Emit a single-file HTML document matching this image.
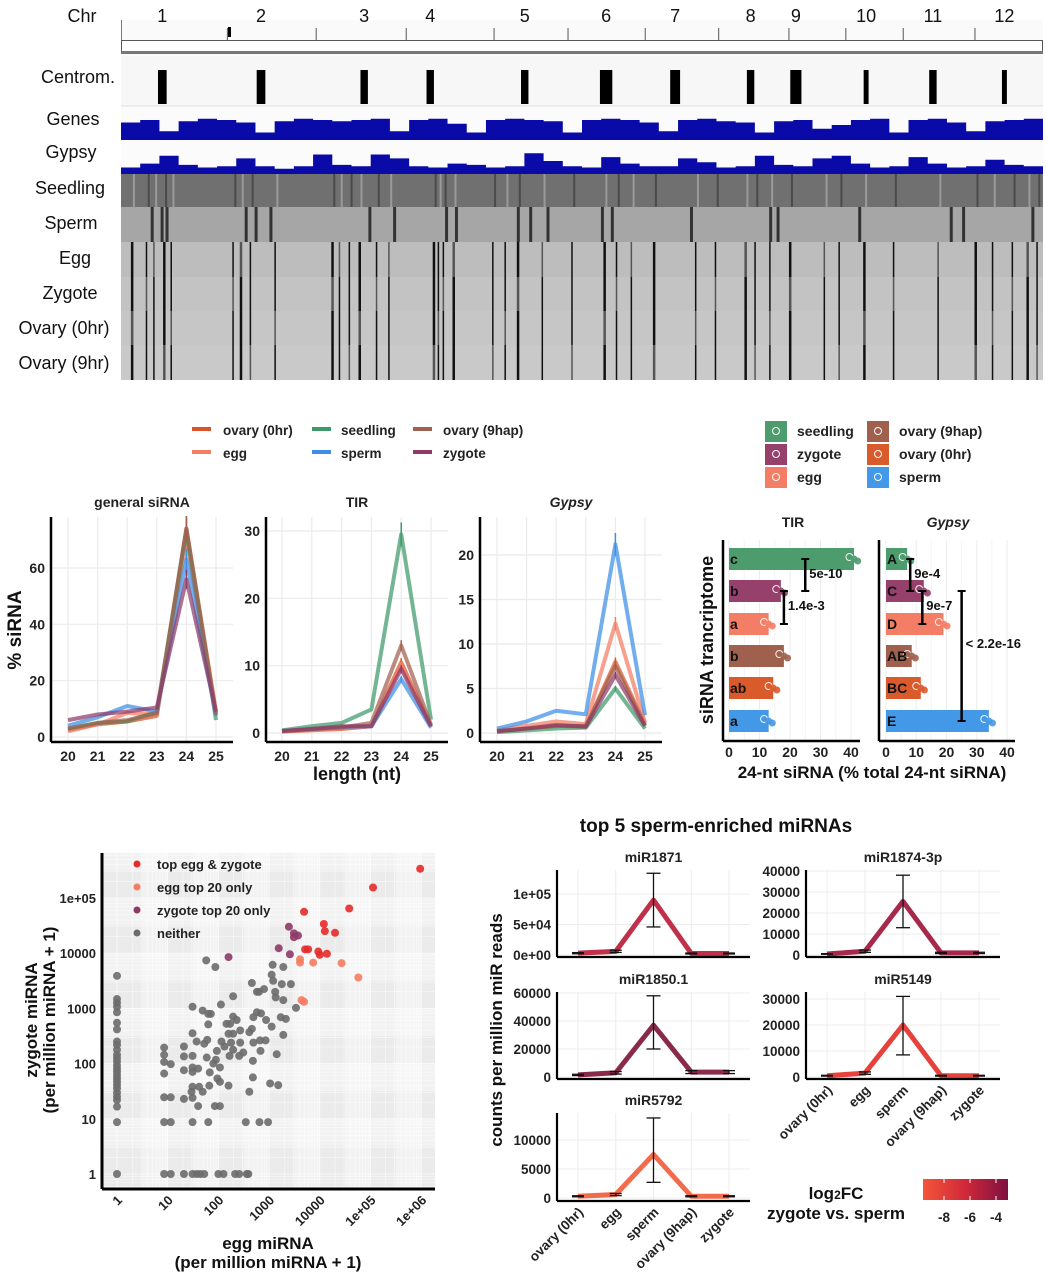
<!DOCTYPE html>
<html><head><meta charset="utf-8">
<style>
html,body{margin:0;padding:0;background:#fff;}
svg{display:block;font-family:"Liberation Sans",Arial,sans-serif;}
</style></head>
<body>
<svg id="fig" width="1046" height="1280" viewBox="0 0 1046 1280" xmlns="http://www.w3.org/2000/svg">
<rect x="0" y="0" width="1046" height="1280" fill="#fff"/>
</svg>
<script>
// ================= DATA =================
const chrNames=["1","2","3","4","5","6","7","8","9","10","11","12"];
const chrLenMb=[43,35.9,36.4,35.5,29.9,31.2,29.7,28.4,23,23.2,29,27.5];
const centroMb=[16.7,13.6,19.4,9.7,12.4,15.4,12.1,12.9,2.8,8.2,12.0,11.9];
const centroWidthMb=[3.5,3.5,3,3,3,5,4,3,4.5,2,3,2];
const genesProfile=[0.7,0.8,0.35,0.75,0.85,0.8,0.7,0.3,0.75,0.85,0.8,0.75,0.8,0.85,0.35,0.8,0.85,0.65,0.3,0.8,0.85,0.8,0.75,0.3,0.8,0.85,0.8,0.7,0.35,0.8,0.85,0.75,0.7,0.3,0.75,0.8,0.45,0.6,0.8,0.85,0.3,0.8,0.85,0.7,0.35,0.75,0.8,0.85];
const gypsyProfile=[0.25,0.4,0.7,0.35,0.25,0.3,0.6,0.3,0.2,0.3,0.75,0.35,0.3,0.75,0.6,0.3,0.25,0.4,0.35,0.25,0.3,0.8,0.5,0.3,0.25,0.65,0.4,0.3,0.3,0.6,0.45,0.25,0.3,0.7,0.35,0.3,0.6,0.7,0.4,0.25,0.3,0.65,0.4,0.25,0.3,0.55,0.35,0.3];
const heatTracks=["Seedling","Sperm","Egg","Zygote","Ovary (0hr)","Ovary (9hr)"];
const heatBase=["#707070","#a6a6a6","#bdbdbd","#c3c3c3","#c6c6c6","#c9c9c9"];
const darkStripesMb=[4,10,13,17,20,45,48,52,62,85,88,92,96,103,108,126,128,130,134,150,155,160,170,182,195,200,206,215,232,240,252,256,262,270,284,290,300,312,330,345,352,360,366,370];
const spermDarkMb=[12,16,18,50,54,60,100,110,131,135,160,165,172,194,198,230,262,265,298,335,340,368];
const lengths=[20,21,22,23,24,25];
const sampleNames=["ovary (0hr)","egg","seedling","sperm","ovary (9hap)","zygote"];
const sampleColors=["#d9542a","#f47c62","#3e9a69","#3b8fe6","#a15f4e","#8e3a67"];
const generalVals=[[2.5,4.5,5.5,7.5,74,9],[2,4.5,8.5,8,70,8],[3,5,5.5,9,73,6],[4,7,11,9,63,7.5],[3,5,6,8.5,74,8],[6,8,9,10.5,56,9]];
const tirVals=[[0.2,0.4,0.6,1,10.5,1],[0.2,0.5,0.7,1,10,1],[0.4,1,1.5,3.5,29.5,2],[0.3,0.6,0.9,1,8,0.8],[0.3,0.6,0.8,1.5,13,1.2],[0.3,0.6,1,1,9.5,1]];
const gypsyVals=[[0.2,0.5,0.8,0.7,8,1],[0.3,0.8,1.3,1,12.3,1.2],[0.1,0.3,0.5,0.6,5,0.5],[0.5,1.3,2.5,2.1,21.2,2],[0.2,0.5,0.8,0.8,7.5,0.8],[0.2,0.5,0.9,0.7,6.5,0.8]];
const generalTicks=[0,20,40,60];
const tirTicks=[0,10,20,30];
const gypsyTicks=[0,5,10,15,20];
const barSamples=["seedling","zygote","egg","ovary (9hap)","ovary (0hr)","sperm"];
const barColors=["#4c9c6e","#96406c","#f47d66","#a0604e","#d95a2b","#4398e8"];
const tirBar=[41,17,13,18,14.5,13];
const gypsyBar=[7,12.5,19,8.5,11.5,34];
const tirLetters=["c","b","a","b","ab","a"];
const gypsyLetters=["A","C","D","AB","BC","E"];
const barTicks=[0,10,20,30,40];
const eggTop=[5.98,5.05,4.58,3.69,4.08,4.10,4.30,3.71,3.77,3.97,4.0,4.14];
const zygTop=[5.53,5.19,4.81,4.75,4.53,4.40,4.37,4.07,4.07,4.03,3.97,3.99];
const eggOnlyEgg=[3.61,3.61,3.87,4.43,4.76,3.64,3.69];
const eggOnlyZyg=[3.89,3.83,3.83,3.82,3.56,3.15,3.12];
const zygOnlyEgg=[2.20,3.19,3.39,3.49,3.57,3.49,3.41];
const zygOnlyZyg=[3.93,4.09,4.48,4.36,4.32,4.29,3.98];
const neitherEgg=[1.76,1.94,3.07,3.28,2.66,3.05,3.08,3.25,3.43,2.76,2.80,2.90,3.12,3.13,3.28,2.29,2.05,1.49,1.69,1.80,1.85,3.53,2.76,2.84,2.69,2.94,3.23,3.33,2.29,2.36,2.23,2.16,1.80,3.05,1.49,2.43,2.61,2.66,2.20,2.29,2.82,2.93,3.28,1.57,1.78,2.06,2.12,2.25,2.43,2.69,1.32,1.72,1.97,2.29,2.83,2.49,0.93,0.93,1.32,1.49,1.77,1.95,2.22,2.41,3.15,2.68,0.93,1.06,1.49,1.60,1.90,2.03,1.32,1.49,1.83,1.98,2.68,0.93,1.49,1.62,1.82,2.03,2.20,3.02,3.18,1.47,1.69,2.61,0.93,1.06,1.32,1.49,1.60,1.93,2.03,0.93,1.06,1.49,1.80,2.54,2.81,2.98,0.93,1.06,1.32,1.49,1.57,1.64,1.72,2.00,2.10,2.33,2.41,2.56,2.59,
 0,0,0,0,0,0,0,0,0,0,0,0,0,0,0,0,0,0,0,0,0,0,0,0,0,0,0];
const neitherZyg=[3.87,3.75,3.79,3.75,3.46,3.61,3.50,3.44,3.44,3.30,3.30,3.35,3.30,3.20,3.15,3.22,3.07,3.03,2.96,2.90,2.90,3.01,2.93,2.91,2.84,2.79,2.84,2.81,2.85,2.79,2.72,2.72,2.71,2.67,2.55,2.60,2.57,2.63,2.54,2.54,2.42,2.42,2.52,2.40,2.43,2.40,2.31,2.38,2.38,2.38,2.31,2.36,2.23,2.25,2.23,2.20,2.29,2.16,2.13,2.14,2.11,2.07,2.14,2.14,2.17,2.05,2.03,1.99,1.93,1.91,2.00,1.93,1.88,1.85,1.84,1.73,1.75,1.82,1.58,1.58,1.60,1.67,1.60,1.64,1.61,1.49,1.49,1.49,1.39,1.39,1.36,1.38,1.23,1.23,1.23,0.94,0.94,0.94,0.94,0.94,0.94,0.94,0,0,0,0,0,0,0,0,0,0,0,0,0,
 3.59,3.17,3.10,3.03,2.93,2.74,2.62,2.40,2.34,2.25,2.16,2.10,2.04,1.97,1.91,1.85,1.79,1.73,1.67,1.61,1.55,1.47,1.40,1.34,1.22,0.94,0];
const logTickLabels=["1","10","100","1000","10000","1e+05","1e+06"];
const logTickYLabels=["1","10","100","1000","10000","1e+05"];
const mirStages=["ovary (0hr)","egg","sperm","ovary (9hap)","zygote"];
const mirNames=["miR1871","miR1874-3p","miR1850.1","miR5149","miR5792"];
const mirColors=["#c0304b","#a6284b","#8a2a49","#e6413a","#f26b4b"];
const mir1871=[3000,6000,90000,2500,2500];
const mir1874=[500,1800,25500,1000,1000];
const mir1850=[1500,3000,37000,3500,3500];
const mir5149=[500,1500,20000,500,500];
const mir5792=[300,600,7500,300,300];
const mirErrLow=[46000,13000,20000,8500,2700];
const mirErrHigh=[134000,38000,58000,31000,13800];
const mirTicks1871=["0e+00","5e+04","1e+05"];
const mirTickVals1871=[0,50000,100000];
const mirTicks1874=[0,10000,20000,30000,40000];
const mirTicks1850=[0,20000,40000,60000];
const mirTicks5149=[0,10000,20000,30000];
const mirTicks5792=[0,5000,10000];
const cbTicks=[-8,-6,-4];

// ================= HELPERS =================
const NS="http://www.w3.org/2000/svg";
const svg=document.getElementById('fig');
function mk(tag,attrs,parent,text){const e=document.createElementNS(NS,tag);for(const k in attrs)e.setAttribute(k,attrs[k]);if(text!==undefined)e.textContent=text;(parent||svg).appendChild(e);return e;}
function grp(name,parent){const g=mk('g',{},parent);return g;}

// ================= GENOME BROWSER =================
const gb=grp('genome-browser');
const X0=121,X1=1043;
const totalMb=chrLenMb.reduce((a,b)=>a+b,0);
const gx=mb=>X0+mb/totalMb*(X1-X0);
const chrStart=[];{let s=0;for(const l of chrLenMb){chrStart.push(s);s+=l;}}
const trackLabels=[["Chr",82,22],["Centrom.",78,83],["Genes",73,125],["Gypsy",71,158],["Seedling",70,194],["Sperm",71,229],["Egg",75,264],["Zygote",70,299],["Ovary (0hr)",64,334],["Ovary (9hr)",64,369]];
trackLabels.forEach(t=>{const e=mk('text',{x:t[1],y:t[2],'text-anchor':'middle','font-size':18,fill:'#111'},gb,t[0]);

});
mk('rect',{x:X0,y:20,width:X1-X0,height:36,fill:'#fafafa'},gb);
mk('line',{x1:X0+0.5,y1:20,x2:X0+0.5,y2:40,stroke:'#777'},gb);
chrStart.forEach((s,i)=>{if(i>0){const t=mk('line',{x1:gx(s),y1:28,x2:gx(s),y2:40,stroke:'#555','stroke-width':1},gb);}
 const cl=mk('text',{x:gx(s+centroMb[i]),y:22,'text-anchor':'middle','font-size':18,fill:'#111'},gb,chrNames[i]);
 
 });
mk('rect',{x:228,y:27,width:3,height:10,fill:'#000'},gb);
mk('rect',{x:X0+0.5,y:40.5,width:X1-X0-1,height:12,fill:'#fff',stroke:'#555','stroke-width':1},gb);
mk('rect',{x:X0,y:51,width:X1-X0,height:3,fill:'#777'},gb);
mk('rect',{x:X0,y:56,width:X1-X0,height:50,fill:'#f7f7f7'},gb);
mk('line',{x1:X0,y1:106,x2:X1,y2:106,stroke:'#ddd'},gb);
centroMb.forEach((c,i)=>{const r=mk('rect',{x:gx(chrStart[i]+c)-gx(centroWidthMb[i])/2+X0/2,y:70,width:gx(centroWidthMb[i])-X0,height:34,fill:'#000'},gb);
 
 });
function densityTrack(profile,top,bottom,name){
 const n=profile.length;const w=(X1-X0)/n;let d=`M${X0},${bottom}`;
 profile.forEach((v,i)=>{const y=bottom-v*(bottom-top);d+=` L${X0+i*w},${y} L${X0+(i+1)*w},${y}`;});
 d+=` L${X1},${bottom} Z`;
 const p=mk('path',{d:d,fill:'#0a0aa8'},gb);
 
 }
mk('rect',{x:X0,y:107,width:X1-X0,height:67,fill:'#fbfbfb'},gb);
densityTrack(genesProfile,115,140,'genes-density-track');
densityTrack(gypsyProfile,148,174,'gypsy-density-track');
const hTop=[174,207,242,277,311,345],hBot=[207,242,277,311,345,380];
heatTracks.forEach((t,i)=>{const r=mk('rect',{x:X0,y:hTop[i],width:X1-X0,height:hBot[i]-hTop[i],fill:heatBase[i]},gb);
 
 
 if(i>=2){darkStripesMb.forEach((m,j)=>{mk('rect',{x:gx(m),y:hTop[i],width:(j%3==0)?2.5:1.5,height:hBot[i]-hTop[i],fill:(j+i)%4==0?'#555':'#111'},gb);});}
 if(i==1){spermDarkMb.forEach(m=>{mk('rect',{x:gx(m),y:hTop[i],width:3,height:hBot[i]-hTop[i],fill:'#333'},gb);});}
 if(i==0){darkStripesMb.forEach((m,j)=>{mk('rect',{x:gx(m)+2,y:hTop[i],width:2,height:hBot[i]-hTop[i],fill:j%2?'#4a4a4a':'#9a9a9a'},gb);});}
});

// ================= LINE CHARTS =================
const lc=grp('sirna-length-charts');
const legSw=[[192,434],[192,457],[312,434],[312,457],[413,434],[413,457]];
const legTx=[223,223,341,341,443,443];
sampleNames.forEach((s,i)=>{const g=grp('legend-entry',lc);
 mk('line',{x1:legSw[i][0],y1:legSw[i][1]-5,x2:legSw[i][0]+19,y2:legSw[i][1]-5,stroke:sampleColors[i],'stroke-width':4},g);
 mk('text',{x:legTx[i],y:legSw[i][1]+1,'font-size':13.5,'font-weight':'bold',fill:'#222'},g,s);});
function lineChart(opts){
 const g=grp(opts.name,lc);
 const {x0,x1,yTop,yBot,y0px,yMaxVal,yMaxPx,cx0,cx1}=opts;
 const ys=v=>y0px-(v)/(yMaxVal)*(y0px-yMaxPx);
 const xs=l=>cx0+(l-20)/5*(cx1-cx0);
 opts.ticks.forEach(t=>{mk('line',{x1:x0,x2:x1,y1:ys(t),y2:ys(t),stroke:'#ebebeb','stroke-width':1.2},g);
  const tl=mk('text',{x:x0-6,y:ys(t)+5,'text-anchor':'end','font-size':14,'font-weight':'bold',fill:'#222'},g,String(t));
  
  });
 lengths.forEach(l=>{mk('line',{x1:xs(l),x2:xs(l),y1:yTop,y2:yBot,stroke:'#ebebeb','stroke-width':1.2},g);
  const tl=mk('text',{x:xs(l),y:yBot+19,'text-anchor':'middle','font-size':14,'font-weight':'bold',fill:'#222'},g,String(l));
  
  });
 opts.vals.forEach((arr,si)=>{const pts=arr.map((v,k)=>xs(lengths[k])+','+ys(v)).join(' ');
  const pl=mk('polyline',{points:pts,fill:'none',stroke:sampleColors[si],'stroke-width':4,'stroke-opacity':0.72,'stroke-linejoin':'round'},g);
  
  
  const v=arr[4];mk('line',{x1:xs(24),x2:xs(24),y1:ys(v*1.06),y2:ys(v*0.94),stroke:sampleColors[si],'stroke-width':1.5},g);});
 mk('line',{x1:x0,y1:yTop,x2:x0,y2:yBot,stroke:'#000','stroke-width':2.5},g);
 mk('line',{x1:x0,y1:yBot,x2:x1,y2:yBot,stroke:'#000','stroke-width':2.5},g);
 const tt=mk('text',{x:(x0+x1)/2,y:yTop-10,'text-anchor':'middle','font-size':14,'font-weight':'bold','font-style':opts.italic?'italic':'normal',fill:'#222'},g,opts.title);
 
 
}
lineChart({name:'general-sirna-chart',title:'general siRNA',x0:51,x1:233,yTop:517,yBot:742,y0px:737,yMaxVal:60,yMaxPx:568,cx0:68,cx1:216,ticks:generalTicks,vals:generalVals});
lineChart({name:'tir-chart',title:'TIR',x0:266,x1:448,yTop:517,yBot:742,y0px:733,yMaxVal:30,yMaxPx:531,cx0:282,cx1:431,ticks:tirTicks,vals:tirVals});
lineChart({name:'gypsy-chart',title:'Gypsy',italic:true,x0:480,x1:662,yTop:517,yBot:742,y0px:733,yMaxVal:20,yMaxPx:555,cx0:497,cx1:645,ticks:gypsyTicks,vals:gypsyVals});
{const t=mk('text',{x:0,y:0,transform:'translate(21,630) rotate(-90)','text-anchor':'middle','font-size':19,'font-weight':'bold',fill:'#111'},lc,'% siRNA');
const t2=mk('text',{x:357,y:780,'text-anchor':'middle','font-size':18,'font-weight':'bold',fill:'#111'},lc,'length (nt)');}

// ================= BAR CHARTS =================
const bc=grp('bar-charts');
const bLeg=[[765,431],[765,454],[765,477],[867,431],[867,454],[867,477]];
barSamples.forEach((s,i)=>{const g=grp('legend-entry',bc);
 mk('rect',{x:bLeg[i][0],y:bLeg[i][1]-10,width:22,height:21,fill:barColors[i]},g);
 mk('circle',{cx:bLeg[i][0]+11,cy:bLeg[i][1],r:3.5,fill:'none',stroke:'#fff','stroke-width':1},g);
 mk('text',{x:bLeg[i][0]+32,y:bLeg[i][1]+5,'font-size':14,'font-weight':'bold',fill:'#222'},g,s);});
const rowY=[559,591,624,656,688,721];
function barChart(o){
 const g=grp(o.name,bc);
 const xs=v=>o.x0+v*(o.x40-o.x0)/40;
 barTicks.forEach(t=>{mk('line',{x1:xs(t),x2:xs(t),y1:540,y2:740,stroke:'#ededed','stroke-width':1},g);
  if(t<40)mk('line',{x1:xs(t+5),x2:xs(t+5),y1:540,y2:740,stroke:'#f4f4f4','stroke-width':1},g);
  const tl=mk('text',{x:xs(t),y:757,'text-anchor':'middle','font-size':14,'font-weight':'bold',fill:'#222'},g,String(t));
  
  });
 o.vals.forEach((v,i)=>{const r=mk('rect',{x:o.x0,y:rowY[i]-11,width:xs(v)-o.x0,height:22,fill:barColors[i]},g);
  
  
  [-1.5,0,1.2].forEach((d,k)=>mk('circle',{cx:xs(v+d),cy:rowY[i]+(k-1)*2,r:3.5,fill:barColors[i],stroke:k==0?'#fff':'none','stroke-width':1,opacity:0.9},g));
  mk('text',{x:o.x0+1,y:rowY[i]+5,'font-size':14,'font-weight':'bold',fill:'#111'},g,o.letters[i]);});
 o.sig.forEach(s=>{const x=xs(s[0]),y1=rowY[s[1]],y2=rowY[s[2]];
  mk('line',{x1:x,x2:x,y1:y1,y2:y2,stroke:'#000','stroke-width':2.5},g);
  mk('line',{x1:x-4,x2:x+4,y1:y1,y2:y1,stroke:'#000','stroke-width':2},g);
  mk('line',{x1:x-4,x2:x+4,y1:y2,y2:y2,stroke:'#000','stroke-width':2},g);
  const tl=mk('text',{x:x+4,y:s[4],'font-size':13,'font-weight':'bold',fill:'#111'},g,s[3]);
  
  });
 mk('line',{x1:o.axisX,y1:540,x2:o.axisX,y2:741,stroke:'#000','stroke-width':2.5},g);
 mk('line',{x1:o.axisX,y1:741,x2:o.axisX+(o.x40-o.x0)+15,y2:741,stroke:'#000','stroke-width':2.5},g);
 const tt=mk('text',{x:o.tx,y:527,'text-anchor':'middle','font-size':14,'font-weight':'bold','font-style':o.italic?'italic':'normal',fill:'#222'},g,o.title);
 
 
}
barChart({name:'tir-bar-chart',title:'TIR',tx:793,x0:729,x40:851,axisX:723,vals:tirBar,letters:tirLetters,sig:[[25,0,1,'5e-10',578],[18,1,2,'1.4e-3',610]]});
barChart({name:'gypsy-bar-chart',title:'Gypsy',italic:true,tx:948,x0:886,x40:1007,axisX:879,vals:gypsyBar,letters:gypsyLetters,sig:[[8,0,1,'9e-4',578],[12,1,2,'9e-7',610],[25,1,5,'< 2.2e-16',648]]});
{const t=mk('text',{x:0,y:0,transform:'translate(713,640) rotate(-90)','text-anchor':'middle','font-size':18,'font-weight':'bold',fill:'#111'},bc,'siRNA trancriptome');
const t2=mk('text',{x:872,y:778,'text-anchor':'middle','font-size':17,'font-weight':'bold',fill:'#111'},bc,'24-nt siRNA (% total 24-nt siRNA)');}

// ================= SCATTER =================
const sc=grp('mirna-scatter');
const SX0=102,SX1=435,SY0=853,SY1=1189;
const sxl=l=>117+l*50.7, syl=l=>1174-l*55.2;
mk('rect',{x:SX0,y:SY0,width:SX1-SX0,height:SY1-SY0,fill:'#ebebeb'},sc);
for(let d=0;d<=6;d++){for(let k=1;k<=9;k++){const x=sxl(d+Math.log10(k));if(x>SX0&&x<SX1)mk('line',{x1:x,x2:x,y1:SY0,y2:SY1,stroke:'#fff','stroke-width':k==1?0.6:0.4},sc);}}
for(let d=-1;d<=5;d++){for(let k=1;k<=9;k++){const y=syl(d+Math.log10(k));if(y>SY0&&y<SY1)mk('line',{x1:SX0,x2:SX1,y1:y,y2:y,stroke:'#fff','stroke-width':k==1?0.6:0.4},sc);}}
for(let d=0;d<=5;d++){mk('rect',{x:sxl(d+0.5),y:SY0,width:50.7*0.5,height:SY1-SY0,fill:'#fff',opacity:0.35},sc);}
for(let d=0;d<=5;d++){mk('rect',{x:SX0,y:syl(d+1),width:SX1-SX0,height:55.2*0.5,fill:'#fff',opacity:0.35},sc);}
function pts(xa,ya,col,name){xa.forEach((x,i)=>{const c=mk('circle',{cx:sxl(x),cy:syl(ya[i]),r:4,fill:col,opacity:0.9},sc);
 
 });}
pts(neitherEgg,neitherZyg,'#6b6b6b','neither-point');
pts(zygOnlyEgg,zygOnlyZyg,'#8e3a67','zygote-only-point');
pts(eggOnlyEgg,eggOnlyZyg,'#f47c62','egg-only-point');
pts(eggTop,zygTop,'#e52a2a','top-point');
const sLeg=[["top egg & zygote","#e52a2a"],["egg top 20 only","#f47c62"],["zygote top 20 only","#8e3a67"],["neither","#6b6b6b"]];
sLeg.forEach((l,i)=>{const g=grp('legend-entry',sc);mk('circle',{cx:137,cy:864+i*23,r:3.5,fill:l[1]},g);mk('text',{x:157,y:869+i*23,'font-size':13,'font-weight':'bold',fill:'#222'},g,l[0]);});
logTickLabels.forEach((t,i)=>{const x=sxl(i);const e=mk('text',{x:0,y:0,transform:`translate(${x+6},${SY1+12}) rotate(-45)`,'text-anchor':'end','font-size':13,'font-weight':'bold',fill:'#222'},sc,t);
 
 });
logTickYLabels.forEach((t,i)=>{const e=mk('text',{x:SX0-6,y:syl(i)+5,'text-anchor':'end','font-size':13,'font-weight':'bold',fill:'#222'},sc,t);
 
 });
mk('line',{x1:SX0,y1:SY0,x2:SX0,y2:SY1,stroke:'#000','stroke-width':3},sc);
mk('line',{x1:SX0,y1:SY1,x2:SX1,y2:SY1,stroke:'#000','stroke-width':3},sc);
{const t=mk('text',{x:0,y:0,transform:'translate(37,1020) rotate(-90)','text-anchor':'middle','font-size':17,'font-weight':'bold',fill:'#111'},sc,'zygote miRNA');
const t1=mk('text',{x:0,y:0,transform:'translate(55,1020) rotate(-90)','text-anchor':'middle','font-size':17,'font-weight':'bold',fill:'#111'},sc,'(per million miRNA + 1)');
const t2=mk('text',{x:268,y:1249,'text-anchor':'middle','font-size':17,'font-weight':'bold',fill:'#111'},sc,'egg miRNA');
const t3=mk('text',{x:268,y:1268,'text-anchor':'middle','font-size':17,'font-weight':'bold',fill:'#111'},sc,'(per million miRNA + 1)');}

// ================= miRNA PANELS =================
const mp=grp('mirna-panels');
{const t=mk('text',{x:716,y:832,'text-anchor':'middle','font-size':19,'font-weight':'bold',fill:'#111'},mp,'top 5 sperm-enriched miRNAs');}
function mirPanel(o){
 const g=grp(o.name,mp);
 const ys=v=>o.y0-v/o.refVal*(o.y0-o.refPx);
 const cxs=[0,1,2,3,4].map(i=>o.ax+21+i*(o.ax2-o.ax-42)/4);
 o.tickVals.forEach((t,i)=>{mk('line',{x1:o.ax,x2:o.ax2,y1:ys(t),y2:ys(t),stroke:'#ececec'},g);
  const tl=mk('text',{x:o.ax-6,y:ys(t)+5,'text-anchor':'end','font-size':13.5,'font-weight':'bold',fill:'#222'},g,o.tickLabels?o.tickLabels[i]:String(t));
  
  });
 cxs.forEach(x=>mk('line',{x1:x,x2:x,y1:o.top,y2:o.bot,stroke:'#ececec'},g));
 const pl=mk('polyline',{points:o.vals.map((v,i)=>cxs[i]+','+ys(v)).join(' '),fill:'none',stroke:o.color,'stroke-width':5,'stroke-linejoin':'round'},g);
 
 
 o.vals.forEach((v,i)=>{const lo=i==2?o.lo:v*0.7,hi=i==2?o.hi:v*1.3;
  mk('line',{x1:cxs[i],x2:cxs[i],y1:ys(lo),y2:ys(hi),stroke:'#111','stroke-width':1.3},g);
  mk('line',{x1:cxs[i]-(i==2?7:6),x2:cxs[i]+(i==2?7:6),y1:ys(lo),y2:ys(lo),stroke:'#111','stroke-width':1.3},g);
  mk('line',{x1:cxs[i]-(i==2?7:6),x2:cxs[i]+(i==2?7:6),y1:ys(hi),y2:ys(hi),stroke:'#111','stroke-width':1.3},g);});
 mk('line',{x1:o.ax,y1:o.top,x2:o.ax,y2:o.bot,stroke:'#000','stroke-width':2.2},g);
 mk('line',{x1:o.ax,y1:o.bot,x2:o.ax2,y2:o.bot,stroke:'#000','stroke-width':2.2},g);
 const tt=mk('text',{x:(o.ax+o.ax2)/2,y:o.top-8,'text-anchor':'middle','font-size':14,'font-weight':'bold',fill:'#222'},g,o.title);
 
 
 if(o.xlabels){mirStages.forEach((s,i)=>{const e=mk('text',{x:0,y:0,transform:`translate(${cxs[i]+6},${o.bot+12}) rotate(-45)`,'text-anchor':'end','font-size':13.5,'font-weight':'bold',fill:'#222'},g,s);
  
  });}
}
mirPanel({name:'mir1871-panel',title:mirNames[0],ax:557,ax2:750,top:870,bot:957,y0:955,refVal:100000,refPx:894,tickVals:mirTickVals1871,tickLabels:mirTicks1871,vals:mir1871,lo:mirErrLow[0],hi:mirErrHigh[0],color:mirColors[0]});
mirPanel({name:'mir1874-panel',title:mirNames[1],ax:806,ax2:1000,top:870,bot:957,y0:955,refVal:40000,refPx:871,tickVals:mirTicks1874,vals:mir1874,lo:mirErrLow[1],hi:mirErrHigh[1],color:mirColors[1]});
mirPanel({name:'mir1850-panel',title:mirNames[2],ax:557,ax2:750,top:992,bot:1079,y0:1077,refVal:60000,refPx:993,tickVals:mirTicks1850,vals:mir1850,lo:mirErrLow[2],hi:mirErrHigh[2],color:mirColors[2]});
mirPanel({name:'mir5149-panel',title:mirNames[3],ax:806,ax2:1000,top:992,bot:1079,y0:1077,refVal:30000,refPx:999,tickVals:mirTicks5149,vals:mir5149,lo:mirErrLow[3],hi:mirErrHigh[3],color:mirColors[3],xlabels:true});
mirPanel({name:'mir5792-panel',title:mirNames[4],ax:557,ax2:750,top:1113,bot:1201,y0:1198,refVal:10000,refPx:1140,tickVals:mirTicks5792,vals:mir5792,lo:mirErrLow[4],hi:mirErrHigh[4],color:mirColors[4],xlabels:true});
{const t=mk('text',{x:0,y:0,transform:'translate(502,1030) rotate(-90)','text-anchor':'middle','font-size':17,'font-weight':'bold',fill:'#111'},mp,'counts per million miR reads');}
{const g=grp('colorbar-legend',mp);
 const defs=mk('defs',{},g);const lg=mk('linearGradient',{id:'cb',x1:0,x2:1,y1:0,y2:0},defs);
 mk('stop',{offset:'0%','stop-color':'#f4553a'},lg);mk('stop',{offset:'50%','stop-color':'#d0283a'},lg);mk('stop',{offset:'100%','stop-color':'#7e1040'},lg);
 mk('rect',{x:923,y:1179,width:85,height:21,fill:'url(#cb)'},g);
 const cbx=v=>944+(v+8)/4*(996-944);
 cbTicks.forEach(t=>{mk('line',{x1:cbx(t),x2:cbx(t),y1:1179,y2:1183,stroke:'#fff'},g);mk('line',{x1:cbx(t),x2:cbx(t),y1:1196,y2:1200,stroke:'#fff'},g);
  const tl=mk('text',{x:cbx(t),y:1222,'text-anchor':'middle','font-size':13.5,'font-weight':'bold',fill:'#222'},g,String(t));
  
  });
 const t1=mk('text',{x:836,y:1199,'text-anchor':'middle','font-size':17,'font-weight':'bold',fill:'#111'},g);
 mk('tspan',{},t1,'log');mk('tspan',{'font-size':12},t1,'2');mk('tspan',{},t1,'FC');
 
 
 const t2=mk('text',{x:836,y:1219,'text-anchor':'middle','font-size':17,'font-weight':'bold',fill:'#111'},g,'zygote vs. sperm');
 
 }
</script>
</body></html>
